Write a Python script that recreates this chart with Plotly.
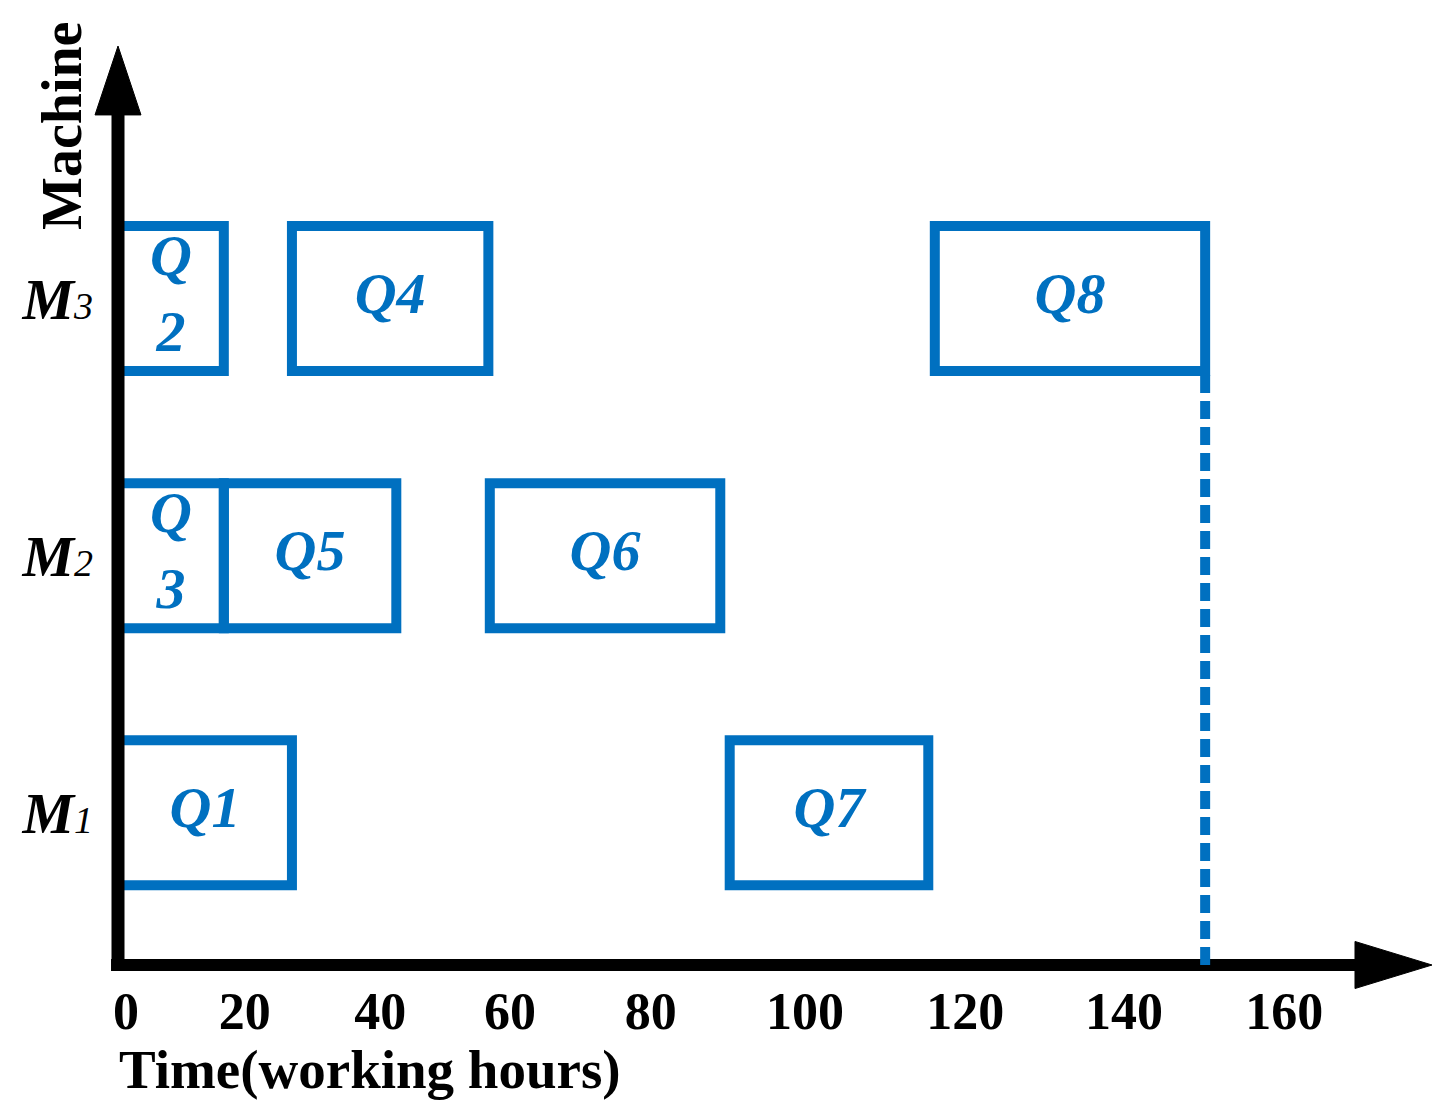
import plotly.graph_objects as go

# schedule (working hours)
tasks = ["Q1", "Q2", "Q3", "Q4", "Q5", "Q6", "Q7", "Q8"]
machines = [1, 3, 2, 3, 2, 2, 1, 3]
start = [0, 0, 0, 24, 14.6, 51.3, 84.4, 112.7]
finish = [24, 14.6, 14.6, 51.1, 38.4, 83.1, 111.8, 150]
task_text = ["Q1", "Q<br>2", "Q<br>3", "Q4", "Q5", "Q6", "Q7", "Q8"]
makespan = 150

machine_names = ["M", "M", "M"]
machine_nums = ["1", "2", "3"]
tick_labels = ["0", "20", "40", "60", "80", "100", "120", "140", "160"]
# where the labels sit under the axis in the original drawing
tick_pos = [1.1, 17.5, 36.2, 54.1, 73.5, 94.8, 116.9, 138.8, 160.9]

BLUE = "#0070C0"
SERIF = "Palatino Linotype, Book Antiqua, Liberation Serif, serif"

fig = go.Figure()

fig.add_trace(go.Bar(
    orientation="h",
    y=machines,
    x=[f - s for s, f in zip(start, finish)],
    base=start,
    width=0.564,
    marker=dict(color="rgba(0,0,0,0)", line=dict(color=BLUE, width=10)),
    hoverinfo="skip",
))

fig.add_trace(go.Scatter(
    x=[(s + f) / 2 for s, f in zip(start, finish)],
    y=machines,
    mode="text",
    text=task_text,
    textfont=dict(family=SERIF, size=58, color=BLUE, weight="bold", style="italic"),
    hoverinfo="skip",
))

y_lo, y_hi = 0.408, 3.982

# axes drawn as thick arrows
fig.add_shape(type="line", xref="paper", yref="paper", x0=-0.0053, x1=0.9414, y0=0, y1=0,
              line=dict(color="black", width=12), layer="above")
fig.add_shape(type="path", xref="paper", yref="paper",
              path="M 0.9414 -0.0256 L 1.0 0 L 0.9414 0.0256 Z",
              fillcolor="black", line=dict(color="black", width=1), layer="above")
fig.add_shape(type="line", xref="paper", yref="paper", x0=0, x1=0, y0=-0.0065, y1=0.925,
              line=dict(color="black", width=13), layer="above")
fig.add_shape(type="path", xref="paper", yref="paper",
              path="M -0.0175 0.925 L 0 1.0 L 0.0175 0.925 Z",
              fillcolor="black", line=dict(color="black", width=1), layer="above")

# makespan marker
fig.add_shape(type="line", xref="x", yref="y", x0=makespan, x1=makespan,
              y0=y_lo, y1=3 - 0.282,
              line=dict(color=BLUE, width=10, dash="18px,8px"), layer="above")

fig.add_annotation(text="<b>Time(working hours)</b>", xref="paper", yref="paper",
                   x=-0.001, y=-0.114, xanchor="left", yanchor="middle", showarrow=False,
                   font=dict(family=SERIF, size=55, color="black"))
fig.add_annotation(text="<b>Machine</b>", xref="paper", yref="paper",
                   x=-0.0426, y=0.913, xanchor="center", yanchor="middle", textangle=-90,
                   showarrow=False, font=dict(family=SERIF, size=56, color="black"))

fig.update_layout(
    width=1444, height=1117,
    margin=dict(l=110, r=20, t=38, b=160),
    plot_bgcolor="white", paper_bgcolor="white",
    barmode="overlay",
    showlegend=False,
    xaxis=dict(range=[0, 181.3], showgrid=False, zeroline=False, showline=False,
               tickvals=tick_pos, ticktext=tick_labels, ticks="",
               ticklabelstandoff=11,
               tickfont=dict(family=SERIF, size=52, color="black", weight="bold")),
    yaxis=dict(range=[y_lo, y_hi], showgrid=False, zeroline=False, showline=False,
               tickvals=[1, 2, 3],
               ticktext=[f"<b><i>{m}</i></b><i><span style='font-size:38px'>{n}</span></i>"
                         for m, n in zip(machine_names, machine_nums)],
               ticks="", ticklabelstandoff=24,
               tickfont=dict(family=SERIF, size=58, color="black")),
)

fig.write_html("out.html")
